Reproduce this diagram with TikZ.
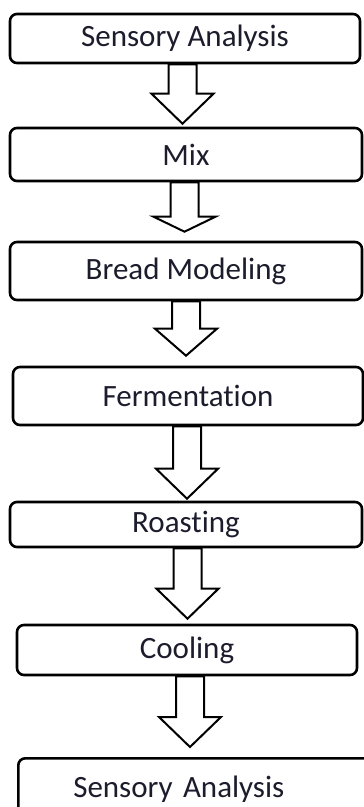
\documentclass[tikz,border=0pt]{standalone}
\usepackage{fontspec}
\setmainfont{Carlito}[Ligatures=NoCommon]
\usepackage{xcolor}
\usepackage{tikz}
\usetikzlibrary{calc}
\definecolor{inkcol}{RGB}{28,28,44}

% hollow block arrow: [head length]{from}{to}{x centre}{gap above target}
\newcommand{\blockarrow}[5][30]{%
  \draw[flowarr] let \p1=(#2.south), \p2=(#3.north) in
    (#4pt-14pt,\y1) -- (#4pt+14pt,\y1) -- (#4pt+14pt,\y2+#5pt+#1pt)
    -- (#4pt+31pt,\y2+#5pt+#1pt) -- (#4pt,\y2+#5pt)
    -- (#4pt-31pt,\y2+#5pt+#1pt) -- (#4pt-14pt,\y2+#5pt+#1pt) -- cycle;}

\begin{document}
\begin{tikzpicture}[x=1pt,y=-1pt,
  stepbox/.style={rectangle,draw,line width=2.6pt,rounded corners=7pt,fill=white,
    inner sep=0pt,text=inkcol,font=\fontsize{31}{36}\selectfont},
  flowarr/.style={draw,line width=2pt,line join=miter,fill=white}]
\path[use as bounding box,clip] (0,0) rectangle (364,807);
\node[stepbox,minimum width=350pt,minimum height=49pt] (b1) at (185,38.5) {Sensory Analysis};
\node[stepbox,minimum width=352pt,minimum height=53pt] (b2) at (186,154.5) {Mix};
\node[stepbox,minimum width=352pt,minimum height=58pt] (b3) at (186,271) {Bread Modeling};
\node[stepbox,minimum width=350pt,minimum height=58pt] (b4) at (188,396) {Fermentation};
\node[stepbox,minimum width=352pt,minimum height=45pt] (b5) at (186,524.5) {Roasting};
\node[stepbox,minimum width=340pt,minimum height=50pt] (b6) at (187,650) {Cooling};
\node[stepbox,anchor=north west,minimum height=62pt,text width=250pt,align=left,
  inner xsep=55pt] (b7) at (17,757) {Sensory Analysis};
\blockarrow{b1}{b2}{182.5}{3}
\blockarrow[15]{b2}{b3}{184.5}{9}
\blockarrow[27]{b3}{b4}{186}{10}
\blockarrow{b4}{b5}{187}{2}
\blockarrow{b5}{b6}{187.5}{5}
\blockarrow{b6}{b7}{190}{10}
\end{tikzpicture}
\end{document}
